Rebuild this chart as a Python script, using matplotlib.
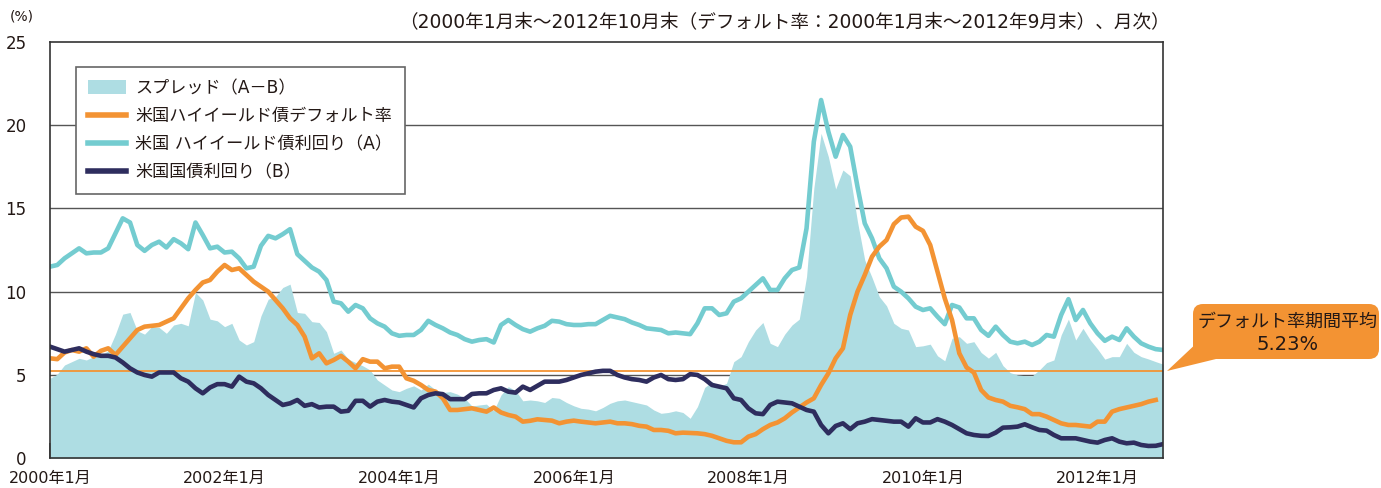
import matplotlib
matplotlib.use('Agg')
import matplotlib.pyplot as plt
from matplotlib.patches import Patch, FancyBboxPatch, Polygon
from matplotlib.lines import Line2D
import numpy as np

plt.rcParams['font.family'] = ['DejaVu Sans', 'Noto Sans CJK JP']

# ---------------- data (monthly, 2000-01 .. 2012-10) ----------------
hy_yield = [
    11.5, 11.6, 12.0, 12.3, 12.6, 12.3, 12.35, 12.35, 12.6, 13.5, 14.4, 14.15,
    12.8, 12.45, 12.8, 13.0, 12.65, 13.15, 12.9, 12.55, 14.15, 13.4, 12.6, 12.7,
    12.35, 12.4, 12.0, 11.4, 11.5, 12.75, 13.35, 13.2, 13.45, 13.75, 12.25, 11.85,
    11.45, 11.2, 10.7, 9.4, 9.3, 8.8, 9.2, 9.0, 8.4, 8.1, 7.9, 7.5,
    7.35, 7.4, 7.4, 7.7, 8.25, 8.0, 7.8, 7.55, 7.4, 7.15, 7.0, 7.1,
    7.15, 6.95, 8.0, 8.3, 8.0, 7.75, 7.6, 7.8, 7.95, 8.25, 8.2, 8.05,
    8.0, 8.0, 8.05, 8.05, 8.3, 8.55, 8.45, 8.35, 8.15, 8.0, 7.8, 7.75,
    7.7, 7.5, 7.55, 7.5, 7.45, 8.1, 9.0, 9.0, 8.6, 8.7, 9.4, 9.6,
    10.0, 10.4, 10.8, 10.1, 10.1, 10.8, 11.3, 11.45, 13.8, 19.0, 21.5, 19.6,
    18.1, 19.4, 18.7, 16.3, 14.1, 13.2, 12.0, 11.4, 10.3, 10.0, 9.6, 9.1,
    8.9, 9.0, 8.5, 8.05, 9.2, 9.05, 8.4, 8.4, 7.7, 7.35, 7.9, 7.4,
    7.0, 6.9, 7.0, 6.8, 7.0, 7.4, 7.3, 8.6, 9.55, 8.3, 8.9, 8.1,
    7.5, 7.05, 7.3, 7.1, 7.8, 7.3, 6.9, 6.7, 6.55, 6.5,
]

tsy_yield = [
    6.7, 6.55, 6.4, 6.5, 6.6, 6.4, 6.25, 6.15, 6.15, 6.05, 5.75, 5.4,
    5.15, 5.0, 4.9, 5.15, 5.15, 5.15, 4.8, 4.6, 4.2, 3.9, 4.25, 4.45,
    4.45, 4.3, 4.9, 4.6, 4.5, 4.2, 3.8, 3.5, 3.2, 3.3, 3.5, 3.15,
    3.25, 3.05, 3.1, 3.1, 2.8, 2.85, 3.45, 3.45, 3.1, 3.4, 3.5, 3.4,
    3.35, 3.2, 3.05, 3.6, 3.8, 3.9, 3.85, 3.55, 3.55, 3.55, 3.86, 3.9,
    3.9, 4.1, 4.2, 4.0, 3.94, 4.3, 4.1, 4.35, 4.6, 4.6, 4.6, 4.7,
    4.85, 5.0, 5.1, 5.2, 5.25, 5.25, 5.0, 4.85, 4.75, 4.7, 4.6, 4.85,
    5.0, 4.75, 4.7, 4.75, 5.05, 5.0, 4.75, 4.4, 4.3, 4.2, 3.6, 3.5,
    3.0, 2.7, 2.65, 3.2, 3.4, 3.35, 3.3, 3.1, 2.9, 2.8, 2.0, 1.5,
    1.94, 2.1, 1.75, 2.1, 2.2, 2.35, 2.3, 2.25, 2.2, 2.2, 1.9, 2.4,
    2.15, 2.15, 2.35, 2.2, 2.0, 1.75, 1.5, 1.4, 1.35, 1.34, 1.54, 1.84,
    1.86, 1.9, 2.04, 1.86, 1.7, 1.66, 1.4, 1.2, 1.2, 1.2, 1.1, 1.0,
    0.94, 1.1, 1.2, 1.0, 0.9, 0.94, 0.8, 0.74, 0.75, 0.85,
]

# default rate: 2000-01 .. 2012-09
default_rate = [
    6.0, 5.95, 6.35, 6.5, 6.4, 6.6, 6.1, 6.45, 6.6, 6.2, 6.7, 7.2,
    7.7, 7.9, 7.95, 8.0, 8.2, 8.4, 9.0, 9.6, 10.1, 10.55, 10.7, 11.2,
    11.6, 11.3, 11.4, 11.0, 10.6, 10.3, 10.0, 9.5, 9.0, 8.4, 8.0, 7.3,
    6.0, 6.3, 5.7, 5.9, 6.15, 5.8, 5.4, 5.95, 5.8, 5.8, 5.4, 5.5,
    5.5, 4.8, 4.65, 4.4, 4.1, 4.0, 3.6, 2.9, 2.9, 2.95, 3.0, 2.9,
    2.8, 3.05, 2.75, 2.6, 2.5, 2.2, 2.25, 2.34, 2.3, 2.26, 2.1, 2.2,
    2.26, 2.2, 2.15, 2.1, 2.15, 2.2, 2.1, 2.1, 2.05, 1.95, 1.9, 1.7,
    1.7, 1.65, 1.5, 1.54, 1.52, 1.5, 1.45, 1.35, 1.2, 1.05, 0.96, 0.96,
    1.3, 1.45, 1.75, 2.0, 2.15, 2.4, 2.75, 3.05, 3.35, 3.6, 4.4, 5.1,
    6.0, 6.6, 8.6, 10.0, 11.0, 12.1, 12.7, 13.1, 14.05, 14.45, 14.5, 13.9,
    13.65, 12.8, 11.2, 9.6, 8.3, 6.3, 5.45, 5.15, 4.1, 3.65, 3.5, 3.4,
    3.15, 3.06, 2.95, 2.65, 2.65, 2.5, 2.3, 2.1, 2.0, 2.0, 1.95, 1.9,
    2.2, 2.2, 2.8, 2.95, 3.05, 3.15, 3.25, 3.4, 3.5,
]

default_avg = 5.23

tick_months = [0, 24, 48, 72, 96, 120, 144]
tick_labels = ['2000年1月', '2002年1月', '2004年1月', '2006年1月',
               '2008年1月', '2010年1月', '2012年1月']
y_ticks = [0, 5, 10, 15, 20, 25]

legend_labels = ['スプレッド（A－B）', '米国ハイイールド債デフォルト率',
                 '米国 ハイイールド債利回り（A）', '米国国債利回り（B）']

# ---------------- styling ----------------
SPREAD = '#AEDDE3'
TEAL = '#74CCD0'
NAVY = '#2E2D5E'
ORANGE = '#F39333'
TXT = '#231815'
GRID = '#555555'

W, H = 1381, 488
fig = plt.figure(figsize=(W / 100, H / 100), dpi=100)
fig.patch.set_facecolor('white')

ax_l, ax_r, ax_t, ax_b = 50, 1163, 41.7, 458.3
ax = fig.add_axes([ax_l / W, 1 - ax_b / H, (ax_r - ax_l) / W, (ax_b - ax_t) / H])

months = np.arange(len(hy_yield))
a = np.array(hy_yield)
b = np.array(tsy_yield)
spread = a - b

ax.set_xlim(0, 153)
ax.set_ylim(0, 25)

for yv in y_ticks[1:-1]:
    ax.axhline(yv, color=GRID, lw=1.0, zorder=1)

ax.fill_between(months, spread, 0, color=SPREAD, lw=0, zorder=2)
ax.axhline(default_avg, color=ORANGE, lw=1.3, zorder=3)
ax.plot(months, a, color=TEAL, lw=3.3, zorder=4, solid_joinstyle='round')
ax.plot(months[:len(default_rate)], default_rate, color=ORANGE, lw=3.3, zorder=5,
        solid_joinstyle='round')
ax.plot(months, b, color=NAVY, lw=3.3, zorder=6, solid_joinstyle='round')

for s in ax.spines.values():
    s.set_color('#333333')
    s.set_linewidth(1.2)
    s.set_zorder(7)

ax.set_xticks(tick_months)
ax.set_xticklabels(tick_labels)
ax.set_yticks(y_ticks)
ax.set_yticklabels([str(v) for v in y_ticks])
ax.tick_params(axis='x', direction='in', length=11, width=1.2, color='#333333',
               labelsize=11.5, labelcolor=TXT, pad=9)
ax.tick_params(axis='y', length=0, labelsize=12, labelcolor=TXT, pad=17)

handles = [
    Patch(facecolor=SPREAD, edgecolor='none'),
    Line2D([0], [0], color=ORANGE, lw=4),
    Line2D([0], [0], color=TEAL, lw=4),
    Line2D([0], [0], color=NAVY, lw=4),
]
leg = ax.legend(handles, legend_labels, loc='upper left',
                bbox_to_anchor=((76 - ax_l) / (ax_r - ax_l), (ax_b - 66.7) / (ax_b - ax_t)),
                borderaxespad=0, fontsize=12.3, frameon=True, fancybox=False,
                edgecolor='#666666', framealpha=1, handlelength=2.2,
                handletextpad=0.55, labelspacing=0.6, borderpad=0.72,
                handleheight=0.9)
leg.get_frame().set_linewidth(1.2)
for t in leg.get_texts():
    t.set_color(TXT)
leg.set_zorder(10)

# header texts
fig.text(1170 / W, 1 - 22 / H,
         '（2000年1月末～2012年10月末（デフォルト率：2000年1月末～2012年9月末）、月次）',
         ha='right', va='center', fontsize=13.4, color=TXT)
fig.text(22 / W, 1 - 17 / H, '(%)', ha='center', va='center', fontsize=10, color=TXT)

# annotation callout (pixel-space overlay)
ov = fig.add_axes([0, 0, 1, 1], facecolor='none')
ov.set_xlim(0, W)
ov.set_ylim(H, 0)
ov.axis('off')
box = FancyBboxPatch((1193, 304), 186, 55, boxstyle='round,pad=0,rounding_size=10',
                     facecolor=ORANGE, edgecolor='none')
ov.add_patch(box)
ov.add_patch(Polygon([[1200, 340], [1216, 359], [1167, 371]], closed=True,
                     facecolor=ORANGE, edgecolor='none'))
ov.text(1288, 322, 'デフォルト率期間平均', ha='center', va='center', fontsize=13, color=TXT)
ov.text(1288, 344, '5.23%', ha='center', va='center', fontsize=14, color=TXT)

fig.savefig('out.png', dpi=100)
